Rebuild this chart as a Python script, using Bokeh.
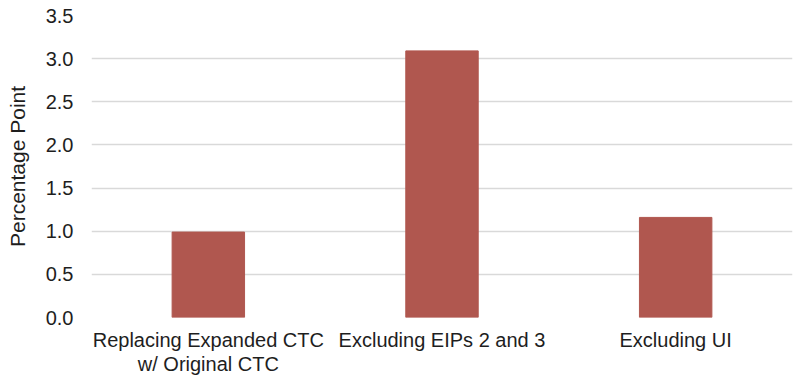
from bokeh.plotting import figure
from bokeh.models import ColumnDataSource, FactorRange, Range1d, FixedTicker, CategoricalAxis, CustomJSTickFormatter
from bokeh.embed import file_html
from bokeh.resources import INLINE

categories = ["Replacing Expanded CTC", "Excluding EIPs 2 and 3", "Excluding UI"]
second_line = ["w/ Original CTC", "", ""]
values = [0.99, 3.09, 1.16]
y_ticks = [0.0, 0.5, 1.0, 1.5, 2.0, 2.5, 3.0, 3.5]

FONT = "Liberation Sans"
TEXT = "#1e1e1e"

src = ColumnDataSource(data=dict(cat=categories, val=values))

p = figure(x_range=FactorRange(*categories), y_range=Range1d(0, 3.5),
           width=800, height=377, output_backend="svg", toolbar_location=None,
           min_border_left=91, min_border_right=8, min_border_top=15, min_border_bottom=10)
p.outline_line_color = None
p.vbar(x="cat", top="val", width=0.31, source=src, fill_color="#B0574F", line_color="#B0574F")

p.xgrid.grid_line_color = None
p.ygrid.grid_line_color = "#d9d9d9"
p.ygrid.grid_line_width = 1.5

p.yaxis.ticker = FixedTicker(ticks=y_ticks)
p.yaxis.formatter = CustomJSTickFormatter(code="return tick.toFixed(1);")

ax2 = CategoricalAxis(formatter=CustomJSTickFormatter(
    args=dict(cats=categories, lines=second_line),
    code="const i = cats.indexOf(tick); return i >= 0 ? (lines[i] || ' ') : ' ';"))
p.add_layout(ax2, "below")

for ax in (p.xaxis[0], p.xaxis[1], p.yaxis[0]):
    ax.axis_line_color = None
    ax.major_tick_line_color = None
    ax.minor_tick_line_color = None
    ax.major_tick_out = 0
    ax.major_tick_in = 0
    ax.major_label_text_font = FONT
    ax.major_label_text_font_size = "20px"
    ax.major_label_text_color = TEXT

p.yaxis.major_label_standoff = 18
p.xaxis[0].major_label_standoff = 11
p.xaxis[1].major_label_standoff = -1

p.yaxis.axis_label = "Percentage Point"
p.yaxis.axis_label_text_font = FONT
p.yaxis.axis_label_text_font_size = "21px"
p.yaxis.axis_label_text_font_style = "normal"
p.yaxis.axis_label_text_color = TEXT
p.yaxis.axis_label_standoff = 14

open("out.html", "w").write(file_html(p, INLINE))
